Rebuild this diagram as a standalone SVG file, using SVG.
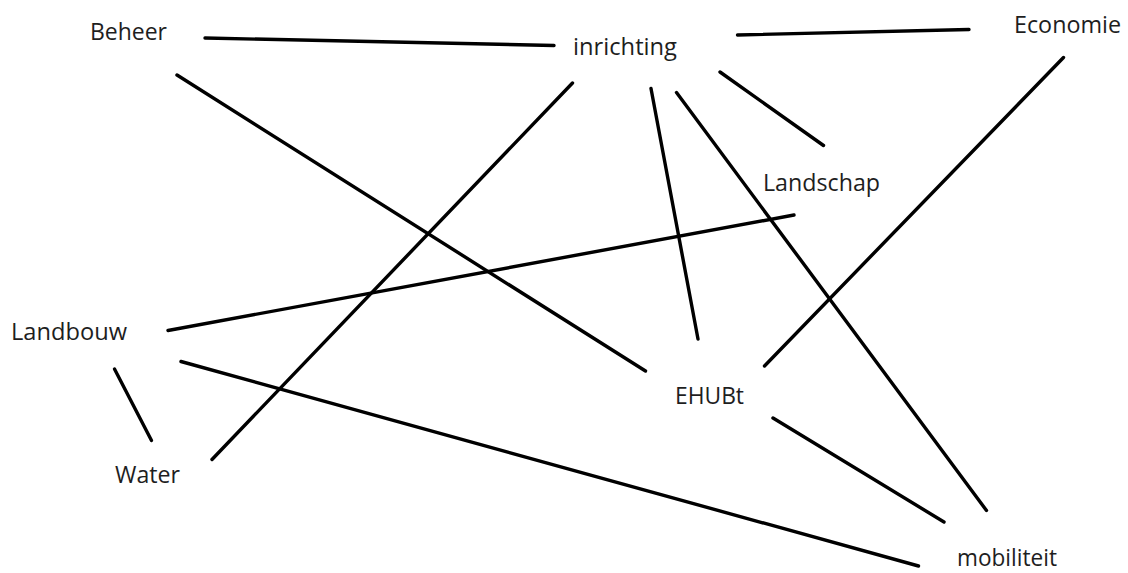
<svg xmlns="http://www.w3.org/2000/svg" width="1128" height="573" viewBox="0 0 1128 573">
<style>
.lbl{font-family:"Open Sans","Noto Sans","Liberation Sans",sans-serif;font-size:23px;fill:#1e1e1e}
.edge{stroke:#000;stroke-width:3.4;stroke-linecap:round;fill:none}
</style>
<rect width="1128" height="573" fill="#fff"/>
<g id="connectors">
<line class="edge" x1="205" y1="38" x2="554" y2="45.5"/>
<line class="edge" x1="737.5" y1="35" x2="969" y2="29.5"/>
<line class="edge" x1="177" y1="75" x2="645.5" y2="371"/>
<line class="edge" x1="572.5" y1="83" x2="212" y2="459.5"/>
<line class="edge" x1="651" y1="88.5" x2="698" y2="339"/>
<line class="edge" x1="676.5" y1="92.5" x2="986.5" y2="510.5"/>
<line class="edge" x1="720" y1="72" x2="823.5" y2="145.5"/>
<line class="edge" x1="1063.5" y1="57.5" x2="764.5" y2="366"/>
<line class="edge" x1="794" y1="215" x2="168" y2="330.5"/>
<line class="edge" x1="114.5" y1="369" x2="151.5" y2="440.5"/>
<line class="edge" x1="181" y1="361.5" x2="918.5" y2="566"/>
<line class="edge" x1="773" y1="418" x2="944" y2="522"/>
</g>
<g id="node-beheer"><text class="lbl" x="90" y="40" textLength="77" lengthAdjust="spacingAndGlyphs">Beheer</text></g>
<g id="node-inrichting"><text class="lbl" x="573" y="54.5" textLength="104" lengthAdjust="spacingAndGlyphs">inrichting</text></g>
<g id="node-economie"><text class="lbl" x="1014" y="32.5" textLength="107" lengthAdjust="spacingAndGlyphs">Economie</text></g>
<g id="node-landschap"><text class="lbl" x="763" y="191" textLength="117" lengthAdjust="spacingAndGlyphs">Landschap</text></g>
<g id="node-landbouw"><text class="lbl" x="11" y="340" textLength="116" lengthAdjust="spacingAndGlyphs">Landbouw</text></g>
<g id="node-ehubt"><text class="lbl" x="675" y="404" textLength="69" lengthAdjust="spacingAndGlyphs">EHUBt</text></g>
<g id="node-water"><text class="lbl" x="115" y="483" textLength="65" lengthAdjust="spacingAndGlyphs">Water</text></g>
<g id="node-mobiliteit"><text class="lbl" x="957" y="566" textLength="100" lengthAdjust="spacingAndGlyphs">mobiliteit</text></g>
</svg>
